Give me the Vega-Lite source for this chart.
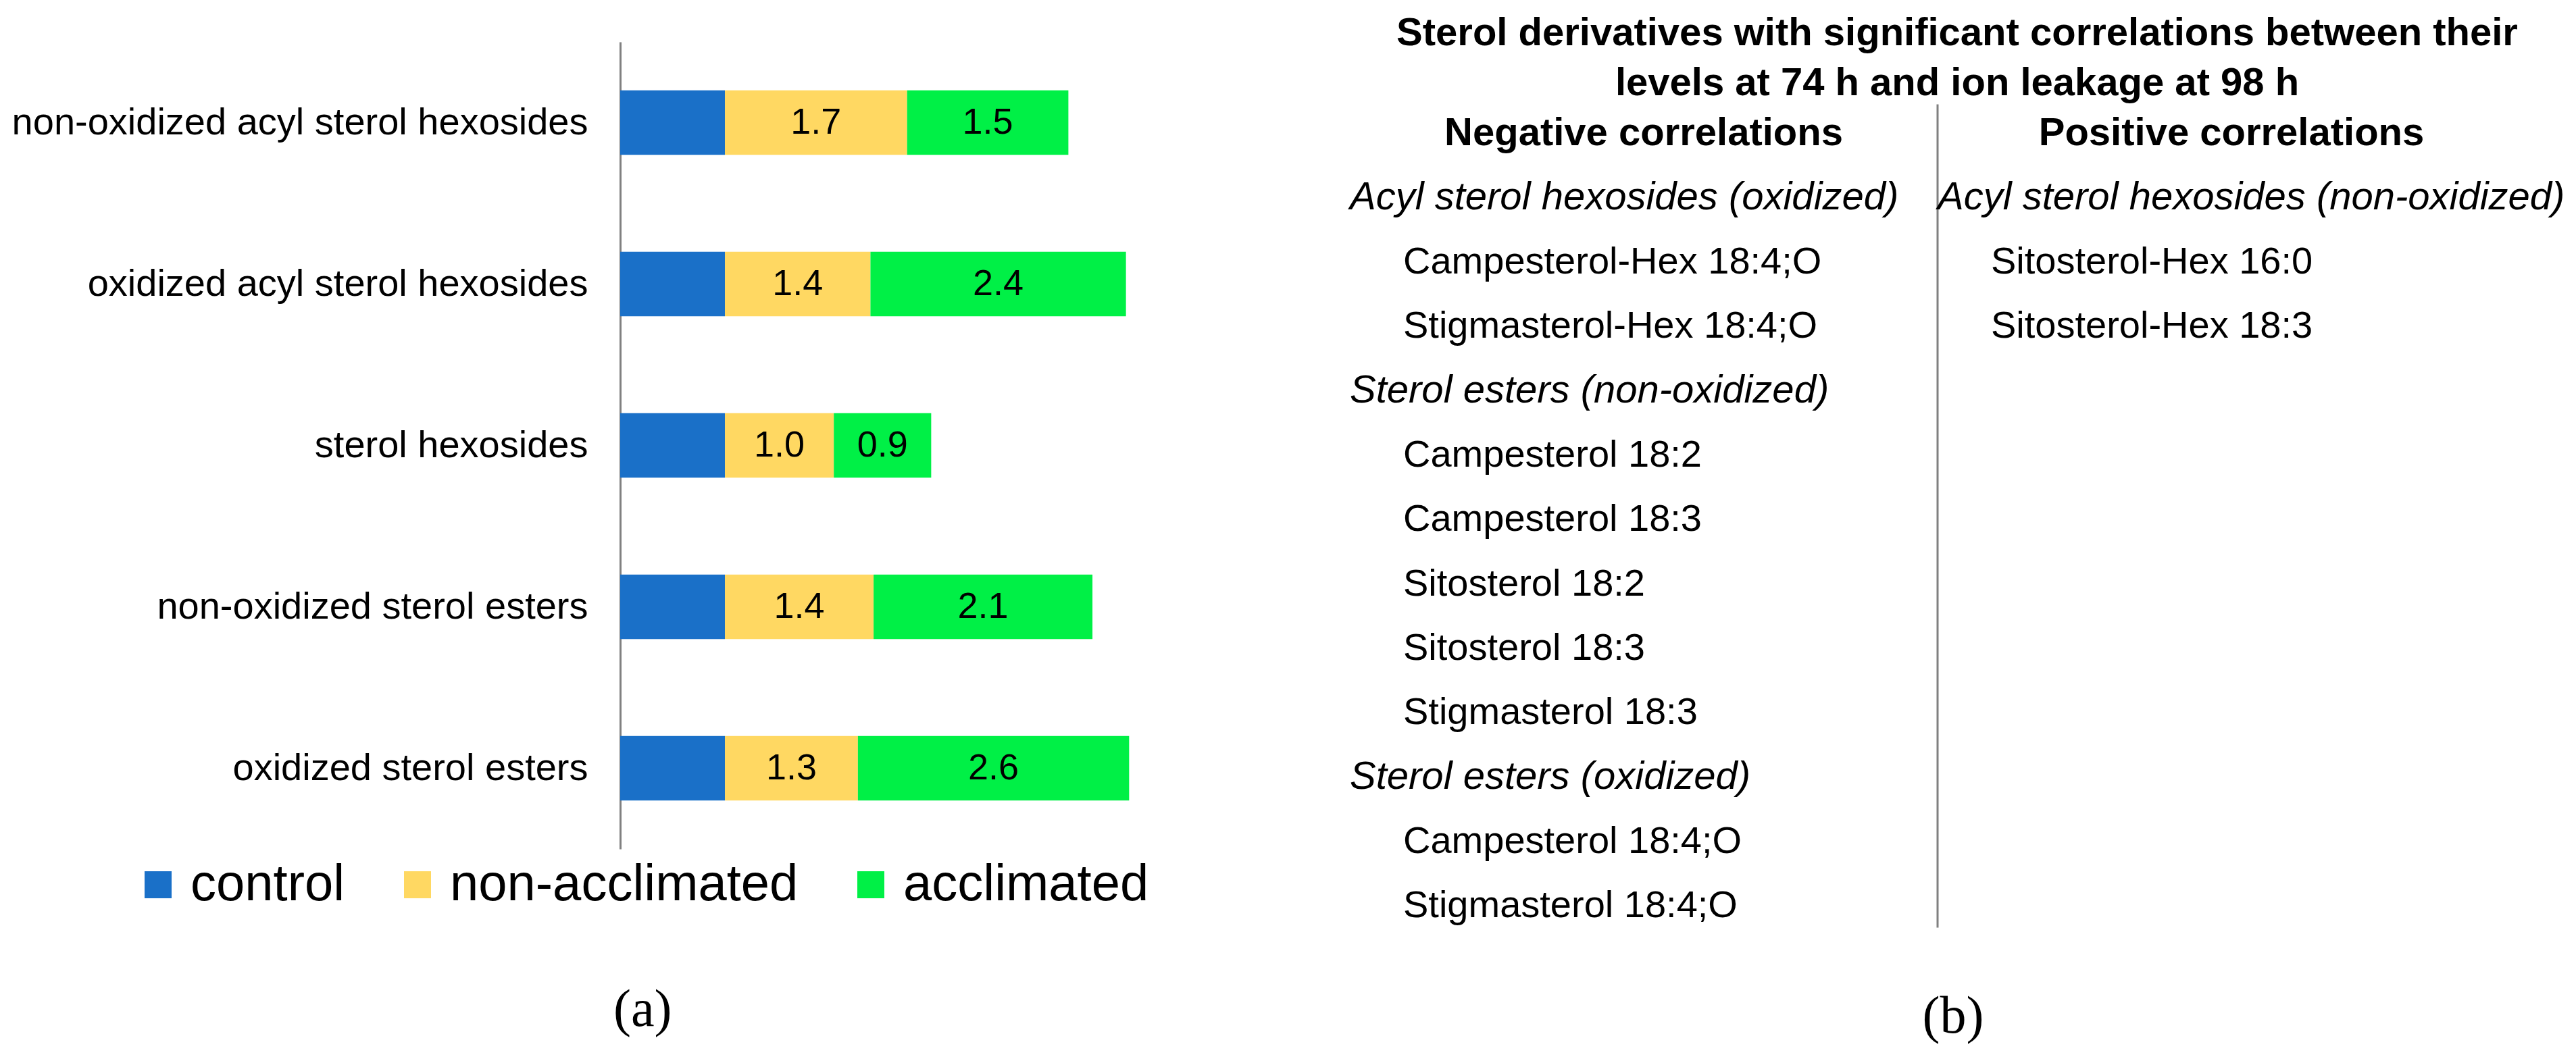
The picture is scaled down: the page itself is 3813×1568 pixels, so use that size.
{
  "$schema": "https://vega.github.io/schema/vega-lite/v6.json",
  "background": "white",
  "padding": {"left": 17, "top": 20, "right": 0, "bottom": 0},
  "config": {"view": {"stroke": null}, "font": "Liberation Sans"},
  "bounds": "flush",
  "spacing": 305,
  "hconcat": [
    {
      "width": 775,
      "height": 1195,
      "data": {"values": [
        {"category": "non-oxidized acyl sterol hexosides", "group": "control", "ord": 1, "value": 1.0},
        {"category": "non-oxidized acyl sterol hexosides", "group": "non-acclimated", "ord": 2, "value": 1.74},
        {"category": "non-oxidized acyl sterol hexosides", "group": "acclimated", "ord": 3, "value": 1.54},
        {"category": "oxidized acyl sterol hexosides", "group": "control", "ord": 1, "value": 1.0},
        {"category": "oxidized acyl sterol hexosides", "group": "non-acclimated", "ord": 2, "value": 1.39},
        {"category": "oxidized acyl sterol hexosides", "group": "acclimated", "ord": 3, "value": 2.44},
        {"category": "sterol hexosides", "group": "control", "ord": 1, "value": 1.0},
        {"category": "sterol hexosides", "group": "non-acclimated", "ord": 2, "value": 1.04},
        {"category": "sterol hexosides", "group": "acclimated", "ord": 3, "value": 0.93},
        {"category": "non-oxidized sterol esters", "group": "control", "ord": 1, "value": 1.0},
        {"category": "non-oxidized sterol esters", "group": "non-acclimated", "ord": 2, "value": 1.42},
        {"category": "non-oxidized sterol esters", "group": "acclimated", "ord": 3, "value": 2.09},
        {"category": "oxidized sterol esters", "group": "control", "ord": 1, "value": 1.0},
        {"category": "oxidized sterol esters", "group": "non-acclimated", "ord": 2, "value": 1.27},
        {"category": "oxidized sterol esters", "group": "acclimated", "ord": 3, "value": 2.59}
      ]},
      "title": {"text": "(a)", "orient": "bottom", "anchor": "start", "frame": "group", "font": "Liberation Serif", "fontSize": 78, "fontWeight": "normal", "color": "black", "offset": 200, "dx": -10},
      "encoding": {
        "y": {"field": "category", "type": "nominal",
          "sort": ["non-oxidized acyl sterol hexosides", "oxidized acyl sterol hexosides", "sterol hexosides", "non-oxidized sterol esters", "oxidized sterol esters"],
          "scale": {"paddingInner": 0.6, "paddingOuter": 0.3},
          "axis": {"title": null, "ticks": false, "labelFontSize": 56, "labelColor": "black", "labelPadding": 48, "labelLimit": 0, "domainColor": "#808080", "domainWidth": 3}},
        "order": {"field": "ord", "type": "quantitative"}
      },
      "layer": [
        {
          "mark": {"type": "bar"},
          "encoding": {
            "x": {"field": "value", "type": "quantitative", "stack": "zero", "scale": {"domain": [0, 5], "nice": false}, "axis": null},
            "color": {"field": "group", "type": "nominal",
              "scale": {"domain": ["control", "non-acclimated", "acclimated"], "range": ["#1A70C8", "#FFD862", "#00F046"]},
              "legend": {"orient": "none", "legendX": -722, "legendY": 1210, "direction": "horizontal", "columns": 3, "title": null,
                "labelFontSize": 76, "labelColor": "black", "labelLimit": 0, "symbolType": "square", "symbolSize": 1600,
                "symbolStrokeWidth": 0, "labelOffset": 10, "columnPadding": 69, "padding": 0}}
          }
        },
        {
          "mark": {"type": "text", "fontSize": 54, "color": "black", "baseline": "middle"},
          "encoding": {
            "x": {"field": "value", "type": "quantitative", "stack": "zero", "bandPosition": 0.5, "scale": {"domain": [0, 5], "nice": false}, "axis": null},
            "detail": {"field": "group"},
            "text": {"condition": {"test": "datum.group !== 'control'", "field": "value", "type": "quantitative", "format": ".1f"}, "value": ""}
          }
        }
      ]
    },
    {
      "width": 1740,
      "height": 1201,
      "title": {"text": "(b)", "orient": "bottom", "anchor": "middle", "frame": "group", "font": "Liberation Serif", "fontSize": 78, "fontWeight": "normal", "color": "black", "offset": 92, "dx": 23},
      "data": {"values": [
        {"side": "negative", "kind": "heading", "row": -1, "label": "Negative correlations"},
        {"side": "negative", "kind": "group", "row": 0, "label": "Acyl sterol hexosides (oxidized)"},
        {"side": "negative", "kind": "item", "row": 1, "label": "Campesterol-Hex 18:4;O"},
        {"side": "negative", "kind": "item", "row": 2, "label": "Stigmasterol-Hex 18:4;O"},
        {"side": "negative", "kind": "group", "row": 3, "label": "Sterol esters (non-oxidized)"},
        {"side": "negative", "kind": "item", "row": 4, "label": "Campesterol 18:2"},
        {"side": "negative", "kind": "item", "row": 5, "label": "Campesterol 18:3"},
        {"side": "negative", "kind": "item", "row": 6, "label": "Sitosterol 18:2"},
        {"side": "negative", "kind": "item", "row": 7, "label": "Sitosterol 18:3"},
        {"side": "negative", "kind": "item", "row": 8, "label": "Stigmasterol 18:3"},
        {"side": "negative", "kind": "group", "row": 9, "label": "Sterol esters (oxidized)"},
        {"side": "negative", "kind": "item", "row": 10, "label": "Campesterol 18:4;O"},
        {"side": "negative", "kind": "item", "row": 11, "label": "Stigmasterol 18:4;O"},
        {"side": "positive", "kind": "heading", "row": -1, "label": "Positive correlations"},
        {"side": "positive", "kind": "group", "row": 0, "label": "Acyl sterol hexosides (non-oxidized)"},
        {"side": "positive", "kind": "item", "row": 1, "label": "Sitosterol-Hex 16:0"},
        {"side": "positive", "kind": "item", "row": 2, "label": "Sitosterol-Hex 18:3"}
      ]},
      "layer": [
        {
          "data": {"values": [{"side": "positive", "top": -1.63, "bottom": 11.16}]},
          "mark": {"type": "rule", "color": "#808080", "strokeWidth": 3},
          "encoding": {
            "x": {"field": "side", "type": "nominal", "bandPosition": 0, "scale": {"type": "band", "domain": ["negative", "positive"], "paddingInner": 0, "paddingOuter": 0}, "axis": null},
            "y": {"field": "top", "type": "quantitative", "scale": {"domain": [-2.6, 10], "reverse": true, "nice": false, "zero": false}, "axis": null},
            "y2": {"field": "bottom"}
          }
        },
        {
          "data": {"values": [{"side": "positive", "row": -2.55, "label": "Sterol derivatives with significant correlations between their\nlevels at 74 h and ion leakage at 98 h"}]},
          "mark": {"type": "text", "fontSize": 58, "fontWeight": "bold", "color": "black", "align": "center", "baseline": "alphabetic", "lineBreak": "\n", "lineHeight": 74, "dx": 29},
          "encoding": {
            "x": {"field": "side", "type": "nominal", "bandPosition": 0, "scale": {"type": "band", "domain": ["negative", "positive"], "paddingInner": 0, "paddingOuter": 0}, "axis": null},
            "y": {"field": "row", "type": "quantitative", "scale": {"domain": [-2.6, 10], "reverse": true, "nice": false, "zero": false}, "axis": null},
            "text": {"field": "label"}
          }
        },
        {
          "transform": [{"filter": "datum.kind === 'heading'"}],
          "mark": {"type": "text", "fontSize": 58, "fontWeight": "bold", "color": "black", "align": "center", "baseline": "alphabetic"},
          "encoding": {
            "x": {"field": "side", "type": "nominal", "bandPosition": 0.5, "scale": {"type": "band", "domain": ["negative", "positive"], "paddingInner": 0, "paddingOuter": 0}, "axis": null},
            "y": {"field": "row", "type": "quantitative", "scale": {"domain": [-2.6, 10], "reverse": true, "nice": false, "zero": false}, "axis": null},
            "text": {"field": "label"}
          }
        },
        {
          "transform": [{"filter": "datum.kind === 'group'"}],
          "mark": {"type": "text", "fontSize": 58, "fontStyle": "italic", "color": "black", "align": "left", "baseline": "alphabetic"},
          "encoding": {
            "x": {"field": "side", "type": "nominal", "bandPosition": 0, "scale": {"type": "band", "domain": ["negative", "positive"], "paddingInner": 0, "paddingOuter": 0}, "axis": null},
            "y": {"field": "row", "type": "quantitative", "scale": {"domain": [-2.6, 10], "reverse": true, "nice": false, "zero": false}, "axis": null},
            "text": {"field": "label"}
          }
        },
        {
          "transform": [{"filter": "datum.kind === 'item'"}],
          "mark": {"type": "text", "fontSize": 56, "color": "black", "align": "left", "baseline": "alphabetic", "dx": 79},
          "encoding": {
            "x": {"field": "side", "type": "nominal", "bandPosition": 0, "scale": {"type": "band", "domain": ["negative", "positive"], "paddingInner": 0, "paddingOuter": 0}, "axis": null},
            "y": {"field": "row", "type": "quantitative", "scale": {"domain": [-2.6, 10], "reverse": true, "nice": false, "zero": false}, "axis": null},
            "text": {"field": "label"}
          }
        }
      ]
    }
  ]
}
